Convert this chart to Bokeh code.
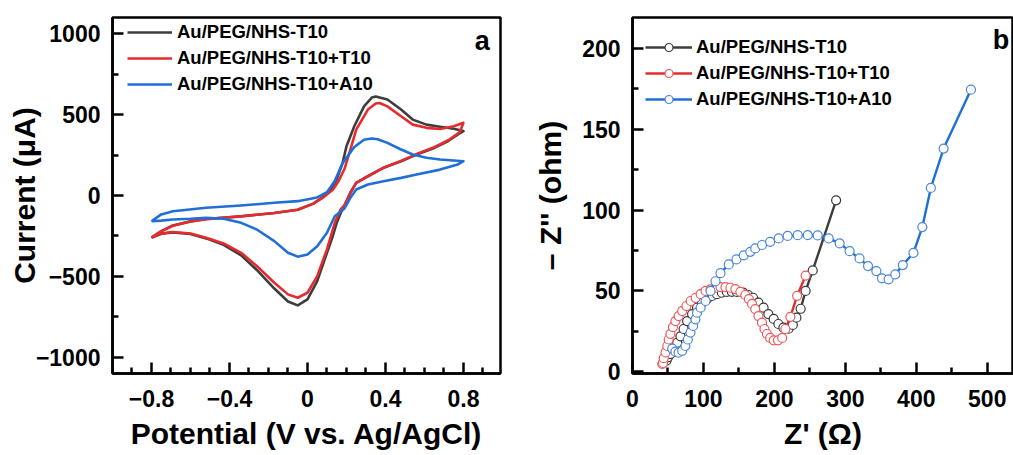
from bokeh.plotting import figure
from bokeh.layouts import row
from bokeh.models import FixedTicker, Range1d, Label, CustomJSTickFormatter
from bokeh.embed import file_html
from bokeh.resources import INLINE

# ---------------- Panel a: cyclic voltammograms ----------------
series_labels = ["Au/PEG/NHS-T10", "Au/PEG/NHS-T10+T10", "Au/PEG/NHS-T10+A10"]

cv_t10_e = [-0.80, -0.75, -0.69, -0.60, -0.52, -0.34, -0.17, -0.05, 0.03, 0.08, 0.12, 0.15,
            0.18, 0.20, 0.24, 0.29, 0.33, 0.35, 0.41, 0.48, 0.54, 0.61, 0.68, 0.75, 0.80,
            0.77, 0.72, 0.65, 0.56, 0.48, 0.39, 0.31, 0.25, 0.22, 0.19, 0.17, 0.15, 0.13,
            0.10, 0.05, 0.00, -0.05, -0.10, -0.17, -0.26, -0.34, -0.43, -0.52, -0.60,
            -0.69, -0.75, -0.80]
cv_t10_i = [-260, -220, -185, -160, -145, -128, -108, -88, -50, -10, 40, 100,
            200, 304, 428, 551, 605, 612, 593, 531, 469, 438, 425, 412, 398,
            376, 335, 294, 253, 212, 171, 119, 78, 17, -60, -110, -169, -250,
            -354, -529, -642, -679, -655, -575, -460, -370, -305, -265, -238,
            -228, -236, -260]

cv_t10t10_e = [-0.80, -0.75, -0.69, -0.60, -0.52, -0.34, -0.17, -0.05, 0.03, 0.08, 0.13, 0.16,
               0.19, 0.22, 0.25, 0.31, 0.35, 0.37, 0.41, 0.48, 0.54, 0.61, 0.68, 0.75, 0.80,
               0.78, 0.72, 0.65, 0.56, 0.48, 0.39, 0.31, 0.25, 0.22, 0.19, 0.17, 0.14,
               0.10, 0.05, 0.00, -0.05, -0.10, -0.17, -0.26, -0.34, -0.43, -0.52, -0.60,
               -0.69, -0.75, -0.80]
cv_t10t10_i = [-262, -222, -187, -161, -146, -129, -108, -88, -50, -12, 35, 90,
               165, 284, 407, 531, 568, 572, 551, 490, 438, 418, 411, 428, 449,
               390, 340, 298, 256, 214, 172, 120, 78, 17, -60, -86, -169,
               -333, -498, -601, -632, -611, -539, -436, -354, -296, -261, -235,
               -226, -235, -262]

cv_t10a10_e = [-0.80, -0.75, -0.69, -0.52, -0.34, -0.17, -0.05, 0.05, 0.10, 0.14, 0.18,
               0.24, 0.29, 0.33, 0.36, 0.41, 0.48, 0.54, 0.61, 0.68, 0.75, 0.80,
               0.77, 0.68, 0.56, 0.48, 0.39, 0.31, 0.25, 0.22, 0.19, 0.14, 0.10, 0.05,
               0.00, -0.05, -0.10, -0.17, -0.26, -0.34, -0.43, -0.52, -0.60, -0.69,
               -0.75, -0.80]
cv_t10a10_i = [-159, -117, -97, -76, -62, -45, -35, -12, 20, 90, 200,
               300, 345, 352, 348, 325, 284, 253, 233, 222, 216, 212,
               191, 160, 130, 109, 88, 68, 37, -14, -80, -128, -230, -313,
               -364, -378, -354, -282, -210, -169, -144, -138, -144, -148,
               -155, -159]

cv_x_ticks = [-0.8, -0.4, 0.0, 0.4, 0.8]
cv_x_tick_labels = ["\u22120.8", "\u22120.4", "0", "0.4", "0.8"]
cv_x_minor = [-0.9, -0.7, -0.6, -0.5, -0.3, -0.2, -0.1, 0.1, 0.2, 0.3, 0.5, 0.6, 0.7, 0.9]
cv_y_ticks = [-1000, -500, 0, 500, 1000]
cv_y_tick_labels = ["\u22121000", "\u2212500", "0", "500", "1000"]
cv_y_minor = [-750, -250, 250, 750]

# ---------------- Panel b: Nyquist plots ----------------
eis_t10_zre = [48, 50, 53.5, 58, 63, 67.6, 72, 77, 84, 91, 98, 105, 112, 119, 126,
               133, 140, 147, 156, 163, 170, 177.5, 184.7, 191.5, 199, 205.6, 212.7,
               220, 226, 231, 237, 244, 254, 287]
eis_t10_zim = [7, 9, 11, 14, 18, 22, 26.5, 31.4, 35.7, 39.7, 42.8, 45, 46.9, 48, 48.9,
               49.4, 49.5, 49.4, 49, 47.5, 45.8, 42.8, 39.7, 35.7, 32.7, 29.6, 27.3,
               26.7, 29, 33.5, 39, 50, 62.7, 106]

eis_t10t10_zre = [42, 43, 44, 46.5, 49, 51, 53.5, 57, 60.5, 65, 70, 76, 82, 89, 96,
                  103, 110, 117, 124, 131, 138, 145, 152, 159, 164, 168.5, 173, 177.5,
                  182.5, 186, 189.5, 194, 199, 205, 211, 215.5, 222.5, 232, 244]
eis_t10t10_zim = [5, 5.5, 8.5, 12, 16, 20, 23.5, 27.7, 31.4, 34.5, 37.6, 40.7, 43.8, 45.8, 48,
                  50, 51, 52, 52.4, 52.4, 52, 51.2, 49.5, 47.5, 45, 42, 38.8, 34.5,
                  30.4, 26.5, 23.4, 21, 19.5, 19.5, 21, 26.5, 34, 47, 59.5]

eis_t10a10_zre = [56, 60.5, 65, 70, 74.6, 78, 81.7, 85.5, 88.7, 91, 96, 103, 110, 117, 124,
                  135.7, 146.5, 156.8, 166, 173, 182.6, 194, 206, 218.7, 232.8, 247, 261,
                  276.5, 292, 306, 320, 332, 343.7, 351.7, 361, 370.4, 381, 396, 408.5,
                  420.5, 438.5, 477]
eis_t10a10_zim = [14.4, 12.5, 11.9, 13, 16, 20, 24.3, 28.4, 32.5, 36.6, 39.7, 43.8, 50, 56, 61,
                  66.4, 69.5, 72, 74.2, 76.3, 78.4, 80.4, 82.5, 84, 84.5, 84.5, 84.3,
                  82.5, 79.4, 74.6, 70.1, 65.4, 62.3, 57.8, 57.2, 60.2, 66, 73.5, 89.5,
                  113.7, 138, 174.4]

eis_x_ticks = [0, 100, 200, 300, 400, 500]
eis_x_tick_labels = ["0", "100", "200", "300", "400", "500"]
eis_x_minor = [50, 150, 250, 350, 450]
eis_y_ticks = [0, 50, 100, 150, 200]
eis_y_tick_labels = ["0", "50", "100", "150", "200"]
eis_y_minor = [25, 75, 125, 175]

# ---------------- styling ----------------
FONT = "Liberation Sans"
LINE_COLORS = ["#3d3d3d", "#e62b2e", "#1f6fd6"]
MARKER_COLORS = ["#3a3a3a", "#ea5a5c", "#4a86d8"]


def fmt(vals, texts):
    return CustomJSTickFormatter(args=dict(tvals=vals, ttexts=texts), code="""
        let best = -1, bd = Infinity;
        for (let k = 0; k < tvals.length; k++) {
            const d = Math.abs(tvals[k] - tick);
            if (d < bd) { bd = d; best = k; }
        }
        return (best >= 0 && bd < 1e-6 * (1 + Math.abs(tick))) ? ttexts[best] : "";
    """)


def style(p, xt, xl, xm, yt, yl, ym, xlabel, ylabel, ylab_standoff):
    p.xgrid.visible = False
    p.ygrid.visible = False
    p.outline_line_color = "black"
    p.outline_line_width = 2.5
    p.xaxis.ticker = FixedTicker(ticks=xt, minor_ticks=xm)
    p.yaxis.ticker = FixedTicker(ticks=yt, minor_ticks=ym)
    p.xaxis.formatter = fmt(xt, xl)
    p.yaxis.formatter = fmt(yt, yl)
    p.xaxis.axis_label = xlabel
    p.yaxis.axis_label = ylabel
    for ax in (p.xaxis[0], p.yaxis[0]):
        ax.axis_line_width = 2.5
        ax.axis_line_color = "black"
        ax.major_tick_line_width = 2.5
        ax.minor_tick_line_width = 2.5
        ax.major_tick_line_color = "black"
        ax.minor_tick_line_color = "black"
        ax.major_tick_in = 11
        ax.major_tick_out = 0
        ax.minor_tick_in = 6
        ax.minor_tick_out = 0
        ax.major_label_text_font = FONT
        ax.major_label_text_font_size = "23px"
        ax.major_label_text_font_style = "bold"
        ax.major_label_text_color = "black"
        ax.axis_label_text_font = FONT
        ax.axis_label_text_font_size = "30px"
        ax.axis_label_text_font_style = "bold"
        ax.axis_label_text_color = "black"
    p.xaxis.major_label_standoff = 16
    p.xaxis.axis_label_standoff = 7
    p.yaxis.major_label_standoff = 12
    p.yaxis.axis_label_standoff = ylab_standoff


def style_legend(p, vx, vy, gw, standoff):
    lg = p.legend[0]
    lg.location = (vx, vy)
    lg.border_line_color = None
    lg.background_fill_alpha = 0
    lg.padding = 0
    lg.margin = 0
    lg.spacing = 4
    lg.glyph_width = gw
    lg.glyph_height = 20
    lg.label_height = 20
    lg.label_standoff = standoff
    lg.label_text_font = FONT
    lg.label_text_font_size = "18.5px"
    lg.label_text_font_style = "bold"
    lg.label_text_color = "black"


# ---------------- Panel a ----------------
pa = figure(width=520, height=455, output_backend="svg", toolbar_location=None,
            x_range=Range1d(-1.0, 0.99), y_range=Range1d(-1100, 1100),
            min_border_left=112, min_border_right=20, min_border_top=17, min_border_bottom=82)
cv_sets = [(cv_t10_e, cv_t10_i), (cv_t10t10_e, cv_t10t10_i), (cv_t10a10_e, cv_t10a10_i)]
for (e, i), lab, col in zip(cv_sets, series_labels, LINE_COLORS):
    pa.line(e, i, line_color=col, line_width=2.6, line_join="round", legend_label=lab)
style(pa, cv_x_ticks, cv_x_tick_labels, cv_x_minor, cv_y_ticks, cv_y_tick_labels, cv_y_minor,
      "Potential (V vs. Ag/AgCl)", "Current (\u03bcA)", -8)
style_legend(pa, 15, 278, 45, 5)
pa.add_layout(Label(x=0.935, y=955, text="a", text_align="right", text_baseline="alphabetic",
                    text_font=FONT, text_font_size="27px", text_font_style="bold",
                    text_color="black"))

# ---------------- Panel b ----------------
pb = figure(width=493, height=455, output_backend="svg", toolbar_location=None,
            x_range=Range1d(0, 537), y_range=Range1d(-1, 219),
            min_border_left=112, min_border_right=0, min_border_top=17, min_border_bottom=82)
eis_sets = [(eis_t10_zre, eis_t10_zim), (eis_t10t10_zre, eis_t10t10_zim),
            (eis_t10a10_zre, eis_t10a10_zim)]
for (zr, zi), lab, lc, mc in zip(eis_sets, series_labels, LINE_COLORS, MARKER_COLORS):
    pb.line(zr, zi, line_color=lc, line_width=2.4, legend_label=lab)
    pb.scatter(zr, zi, marker="circle", size=9, fill_color="white", line_color=mc,
               line_width=1.2, legend_label=lab)
style(pb, eis_x_ticks, eis_x_tick_labels, eis_x_minor, eis_y_ticks, eis_y_tick_labels,
      eis_y_minor, "Z' (\u03a9)", "\u2013 Z'' (ohm)", 12)
style_legend(pb, 13, 263, 47, 4)
pb.add_layout(Label(x=531, y=205, text="b", text_align="right", text_baseline="alphabetic",
                    text_font=FONT, text_font_size="27px", text_font_style="bold",
                    text_color="black"))

layout = row(pa, pb)
open("out.html", "w").write(file_html(layout, INLINE))
